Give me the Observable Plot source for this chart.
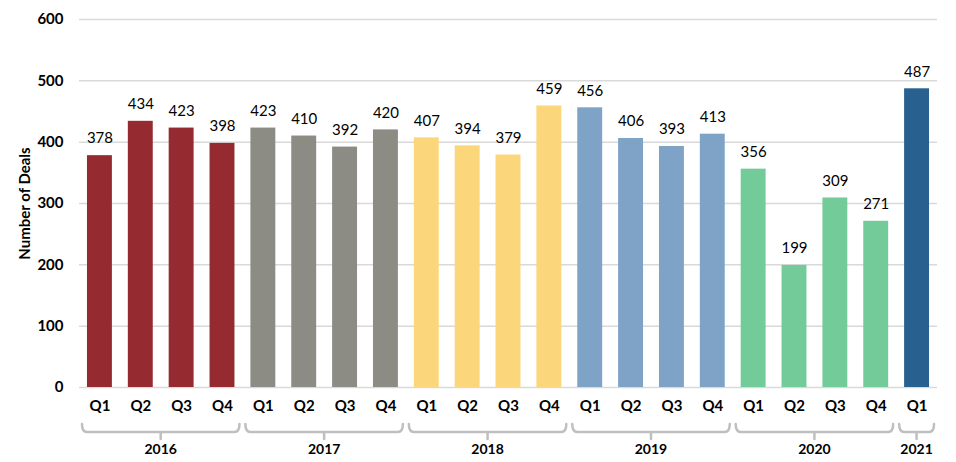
<!DOCTYPE html>
<html>
<head>
<meta charset="utf-8">
<script src="https://cdn.jsdelivr.net/npm/d3@7"></script>
<script src="https://cdn.jsdelivr.net/npm/@observablehq/plot@0.6"></script>
<style>
  html, body { margin: 0; padding: 0; background: #fff; }
  #chart { width: 956px; height: 462px; }
</style>
</head>
<body>
<div id="chart"></div>
<script>
const years = ["2016","2016","2016","2016","2017","2017","2017","2017","2018","2018","2018","2018","2019","2019","2019","2019","2020","2020","2020","2020","2021"];
const quarters = ["Q1","Q2","Q3","Q4","Q1","Q2","Q3","Q4","Q1","Q2","Q3","Q4","Q1","Q2","Q3","Q4","Q1","Q2","Q3","Q4","Q1"];
const deals = [378,434,423,398,423,410,392,420,407,394,379,459,456,406,393,413,356,199,309,271,487];
const yearList = ["2016","2017","2018","2019","2020","2021"];
const yearColors = ["#952a31","#8c8c85","#fbd67b","#7ea3c6","#73cb9a","#28608f"];
const yTicks = [0,100,200,300,400,500,600];

const data = deals.map((v, i) => ({key: years[i] + " " + quarters[i], year: years[i], q: quarters[i], v}));
const keys = data.map(d => d.key);
const font = "Lato, 'Noto Sans', sans-serif";

const plot = Plot.plot({
  width: 956,
  height: 462,
  marginLeft: 79,
  marginRight: 19,
  marginTop: 19,
  marginBottom: 75,
  style: {fontFamily: font, fontSize: "14px", color: "#000", background: "#fff"},
  x: {domain: keys, paddingInner: 0.39, paddingOuter: 0.195, round: false, label: null},
  y: {domain: [0, 600], label: null},
  color: {domain: yearList, range: yearColors},
  marks: [
    Plot.gridY(yTicks, {stroke: "#d9d9d9", strokeOpacity: 1, strokeWidth: 1.5}),
    Plot.barY(data, {x: "key", y: "v", fill: "year"}),
    Plot.text(data, {x: "key", y: "v", text: d => String(d.v), dy: -17, fontSize: 15, fill: "#000"}),
    Plot.axisX({tickSize: 0, tickPadding: 13, tickFormat: k => k.split(" ")[1], fontWeight: "bold", fontSize: 15, label: null}),
    Plot.axisY(yTicks, {tickSize: 0, tickPadding: 16, fontWeight: "bold", fontSize: 15, label: null}),
    Plot.text(["Number of Deals"], {frameAnchor: "left", textAnchor: "middle", dx: -54, rotate: -90, fontWeight: "bold", fontSize: 15, fill: "#000"})
  ]
});

// Year brackets drawn from the plot's own x scale
const xs = plot.scale("x");
const svg = d3.select(plot);
const g = svg.append("g").attr("fill", "none").attr("stroke", "#bfbfbf").attr("stroke-width", 2.5)
  .attr("stroke-linejoin", "round").attr("stroke-linecap", "round");
const tg = svg.append("g").attr("font-family", font).attr("font-size", 14).attr("font-weight", "bold").attr("text-anchor", "middle");
yearList.forEach(yr => {
  const ks = data.filter(d => d.year === yr).map(d => d.key);
  const x0 = xs.apply(ks[0]) - 5;
  const x1 = xs.apply(ks[ks.length - 1]) + xs.bandwidth + 5;
  const xm = (x0 + x1) / 2;
  const yTop = 424, yLine = 432, yTick = 439;
  g.append("path").attr("d", `M${x0},${yTop} Q${x0},${yLine} ${x0 + 5},${yLine} L${x1 - 5},${yLine} Q${x1},${yLine} ${x1},${yTop} M${xm},${yLine} L${xm},${yTick}`);
  tg.append("text").attr("x", xm).attr("y", 449).attr("dy", "0.35em").text(yr);
});

document.getElementById("chart").appendChild(plot);
</script>
</body>
</html>
